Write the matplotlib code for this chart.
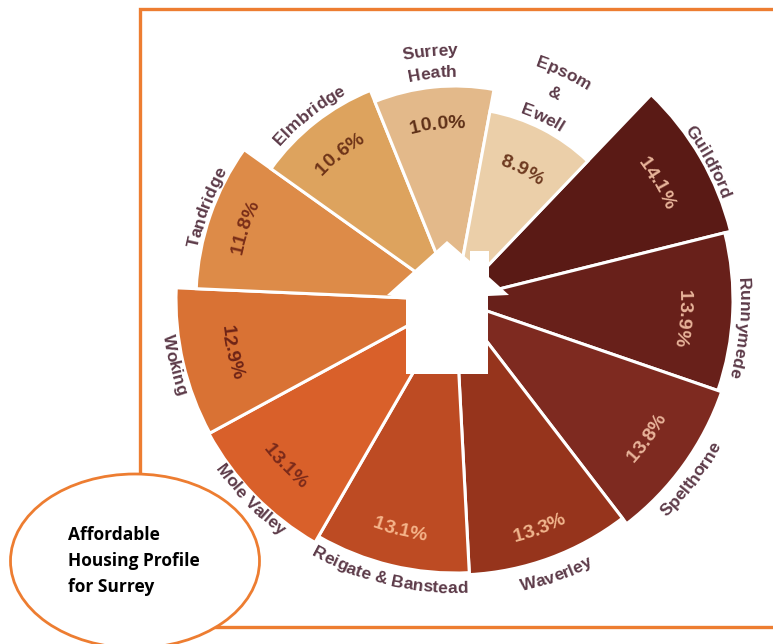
import numpy as np
import matplotlib
matplotlib.use("Agg")
import matplotlib.pyplot as plt
from matplotlib.font_manager import FontProperties
from matplotlib.patches import Ellipse, Polygon
from matplotlib.textpath import TextToPath

# clockwise from the Guildford slice
districts = ["Guildford", "Runnymede", "Spelthorne", "Waverley", "Reigate & Banstead", "Mole Valley",
             "Woking", "Tandridge", "Elmbridge", "Surrey Heath", "Epsom & Ewell"]
shares = [14.1, 13.9, 13.8, 13.3, 13.1, 13.1, 12.9, 11.8, 10.6, 10.0, 8.9]
# drawn lengths and angles of the slices do not follow the shares exactly
lengths = [284, 278, 282, 275, 273, 280, 279, 259, 226, 214, 192]
edges = [43.7, 76, 109, 142.5, 177, 210, 241.5, 272.5, 305.5, 338, 370.5, 403.7]
colours = ["#5a1a15", "#68201a", "#7e2a20", "#96341c", "#bd4b23", "#d9602a",
           "#d97234", "#dd8b48", "#dda35e", "#e3b98a", "#ebcfa9"]
share_colours = ["#e8b49a", "#e8b49a", "#e8b49a", "#f0b48c", "#f5b48a", "#7a2a1a",
                 "#6e2416", "#7a2e18", "#6e3418", "#5e3018", "#6e3a20"]
name_lines = [["Guildford"], ["Runnymede"], ["Spelthorne"], ["Waverley"], ["Reigate & Banstead"], ["Mole Valley"],
              ["Woking"], ["Tandridge"], ["Elmbridge"], ["Surrey", "Heath"], ["Epsom", "&", "Ewell"]]
name_radii = [[285], [284], [293], [289], [283], [283], [284], [262], [233], [245, 223], [247, 224, 198]]
name_shift = [1.5, 3, 1.5, 0, 0, 0, 0, 1.5, 0, 0, -1.5]
share_radii = [235, 230, 236, 243, 236, 237, 229, 224, 188, 178, 148]
share_shift = [0, 2, 0, 0, 0, 0, 0, 0, 0, 0, 0]
flipped = [False, False, True, True, True, True, True, False, False, False, False]
title_lines = ["Affordable", "Housing Profile", "for Surrey"]

W, H = 773, 644
CX, CY, R = 455, 300, 340
ORANGE = "#ed7d31"
NAME_COLOUR = "#5c3a48"

plt.rcParams['font.family'] = ['Liberation Sans', 'DejaVu Sans']


def arc_text(ax, s, centre_deg, radius, flip, size, colour, weight="bold"):
    # one glyph at a time so the label bends with the slice
    prop = FontProperties(family="Liberation Sans", weight=weight, size=size)
    ttp = TextToPath()
    adv = [ttp.get_text_width_height_descent(s[:i], prop, False)[0] * 100 / 72 for i in range(len(s) + 1)]
    total = adv[-1]
    for i, ch in enumerate(s):
        if ch == " ":
            continue
        mid = (adv[i] + adv[i + 1]) / 2 - total / 2
        if flip:
            theta = centre_deg - np.degrees(mid / radius)
            rot = 180 - theta
        else:
            theta = centre_deg + np.degrees(mid / radius)
            rot = -theta
        ax.text(np.radians(theta), radius, ch, ha="center", va="baseline", rotation=rot,
                rotation_mode="anchor", color=colour, fontproperties=prop, clip_on=False)


fig = plt.figure(figsize=(W / 100, H / 100), dpi=100)

frame = fig.add_axes([0, 0, 1, 1], zorder=1)
frame.set_xlim(0, W)
frame.set_ylim(H, 0)
frame.axis("off")
frame.plot([W + 5, 140, 140], [8.5, 8.5, 480], color=ORANGE, lw=2.4, solid_joinstyle="miter")
frame.plot([200, W + 5], [627, 627], color=ORANGE, lw=2.4)

ax = fig.add_axes([(CX - R) / W, 1 - (CY + R) / H, 2 * R / W, 2 * R / H], projection="polar", zorder=2)
ax.set_theta_zero_location("N")
ax.set_theta_direction(-1)
ax.set_rlim(0, R)
ax.axis("off")

edges = np.array(edges)
centres = (edges[:-1] + edges[1:]) / 2
ax.bar(np.radians(centres), lengths, width=np.radians(np.diff(edges)), color=colours,
       edgecolor="white", linewidth=2.2)

for i, c in enumerate(centres):
    flip = flipped[i]
    for line, rad in zip(name_lines[i], name_radii[i]):
        arc_text(ax, line, c + name_shift[i], rad + (10 if flip else 0), flip, 12.5, NAME_COLOUR)
    arc_text(ax, f"{shares[i]:.1f}%", c + share_shift[i], share_radii[i] + (6 if flip else -6), flip, 14,
             share_colours[i])

top = fig.add_axes([0, 0, 1, 1], zorder=3)
top.set_xlim(0, W)
top.set_ylim(H, 0)
top.axis("off")
house = [(447, 241), (470, 261), (470, 251), (489, 251), (489, 277), (509, 295), (488, 296),
         (488, 374), (406, 374), (406, 299), (387, 295)]
top.add_patch(Polygon(house, closed=True, facecolor="white", edgecolor="none"))
top.add_patch(Ellipse((135, 561), 249, 174, facecolor="white", edgecolor=ORANGE, lw=2.0, clip_on=False))
for y, line in zip([535.5, 561.5, 587.5], title_lines):
    top.text(68, y, line, ha="left", va="center", fontsize=12.5, fontweight="bold",
             family=["Open Sans", "DejaVu Sans"], color="black")

fig.savefig("out.png", dpi=100)
